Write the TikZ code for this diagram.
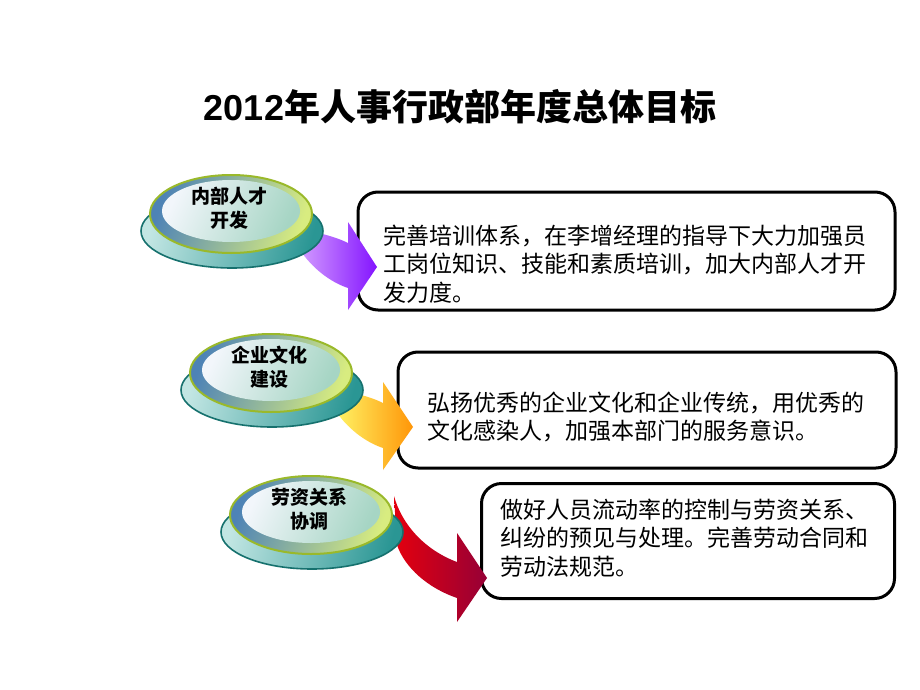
\documentclass[tikz,border=0pt]{standalone}
\usepackage{fontspec}
\newfontfamily\cjk{Noto Sans CJK SC}
\newfontfamily\latinb{Liberation Sans}
\definecolor{baseL}{HTML}{C2E6E3}
\definecolor{baseR}{HTML}{2A9694}
\definecolor{baseD}{HTML}{16716E}
\definecolor{rimL}{HTML}{4E83B6}
\definecolor{rimR}{HTML}{D8EC80}
\definecolor{rimD}{HTML}{9AB92A}
\definecolor{hiL}{HTML}{F2F6FB}
\definecolor{hiR}{HTML}{A6D5C4}
\definecolor{purL}{HTML}{D29BFF}
\definecolor{purR}{HTML}{8414FF}
\definecolor{yelL}{HTML}{FFF466}
\definecolor{yelR}{HTML}{FF9608}
\definecolor{redL}{HTML}{E4000E}
\definecolor{redR}{HTML}{960036}
\tikzset{
  textbox/.style={draw=black, line width=3pt, rounded corners=20pt, fill=white, inner sep=0pt},
  boxtext/.style={anchor=west, align=left, inner sep=0pt, font=\cjk\fontsize{23}{28.5}\selectfont},
  disklabel/.style={align=center, inner sep=0pt, font=\cjk\bfseries\fontsize{19}{23.5}\selectfont},
}
\newcommand\mydisk[4]{%
  \begin{scope}[shift={(#1,#2)}]
    \path[left color=baseL, right color=baseR, shading angle=75] (1,17) ellipse [x radius=91, y radius=37];
    \draw[baseD, line width=1.6pt] (1,17) ellipse [x radius=91, y radius=37];
    \path[left color=rimL, right color=rimR, shading angle=70] (0,0) ellipse [x radius=81, y radius=39];
    \draw[rimD, line width=2pt] (0,0) ellipse [x radius=81, y radius=39];
    \path[left color=hiL, right color=hiR, shading angle=65] (0,-3) ellipse [x radius=69, y radius=31];
    \node[disklabel] (#3) at (-2,-6) {#4};
  \end{scope}}
\begin{document}
\begin{tikzpicture}[x=1pt,y=-1pt]
\useasboundingbox[fill=white] (0,0) rectangle (920,690);
\node (title) at (460,107) {{\latinb\bfseries\fontsize{36}{40}\selectfont 2012}{\cjk\bfseries\fontsize{36}{40}\selectfont 年人事行政部年度总体目标}};
% boxes
\node[textbox, minimum width=537pt, minimum height=118pt] (b1) at (626.5,251) {};
\node[textbox, minimum width=498pt, minimum height=116pt] (b2) at (647,410) {};
\node[textbox, minimum width=413pt, minimum height=115pt] (b3) at (688,541) {};
\node[boxtext] (t1) at (383,264) {完善培训体系，在李增经理的指导下大力加强员\\工岗位知识、技能和素质培训，加大内部人才开\\发力度。};
\node[boxtext] (t2) at (427,417) {弘扬优秀的企业文化和企业传统，用优秀的\\文化感染人，加强本部门的服务意识。};
\node[boxtext] (t3) at (500,538) {做好人员流动率的控制与劳资关系、\\纠纷的预见与处理。完善劳动合同和\\劳动法规范。};
% arrows
\path[left color=purL, right color=purR] (300,228) -- (318,233) .. controls (332,236) and (342,240) .. (348,243) -- (348,222) -- (377,267) -- (348,310) -- (348,288) .. controls (330,282) and (312,268) .. (300,250) -- cycle;
\path[left color=yelL, right color=yelR] (335,388) -- (353,393) .. controls (367,396) and (377,400) .. (383,403) -- (383,382) -- (413,427) -- (383,470) -- (383,448) .. controls (365,442) and (347,428) .. (335,410) -- cycle;
\path[left color=redL, right color=redR] (394,496) .. controls (402,525) and (425,550) .. (457,562) -- (457,533) -- (487,578) -- (457,622) -- (457,598) .. controls (428,588) and (405,568) .. (397,545) -- cycle;
% disks
\mydisk{231}{214}{d1}{内部人才\\开发}
\mydisk{271}{373}{d2}{企业文化\\建设}
\mydisk{311}{515}{d3}{劳资关系\\协调}
\end{tikzpicture}
\end{document}
